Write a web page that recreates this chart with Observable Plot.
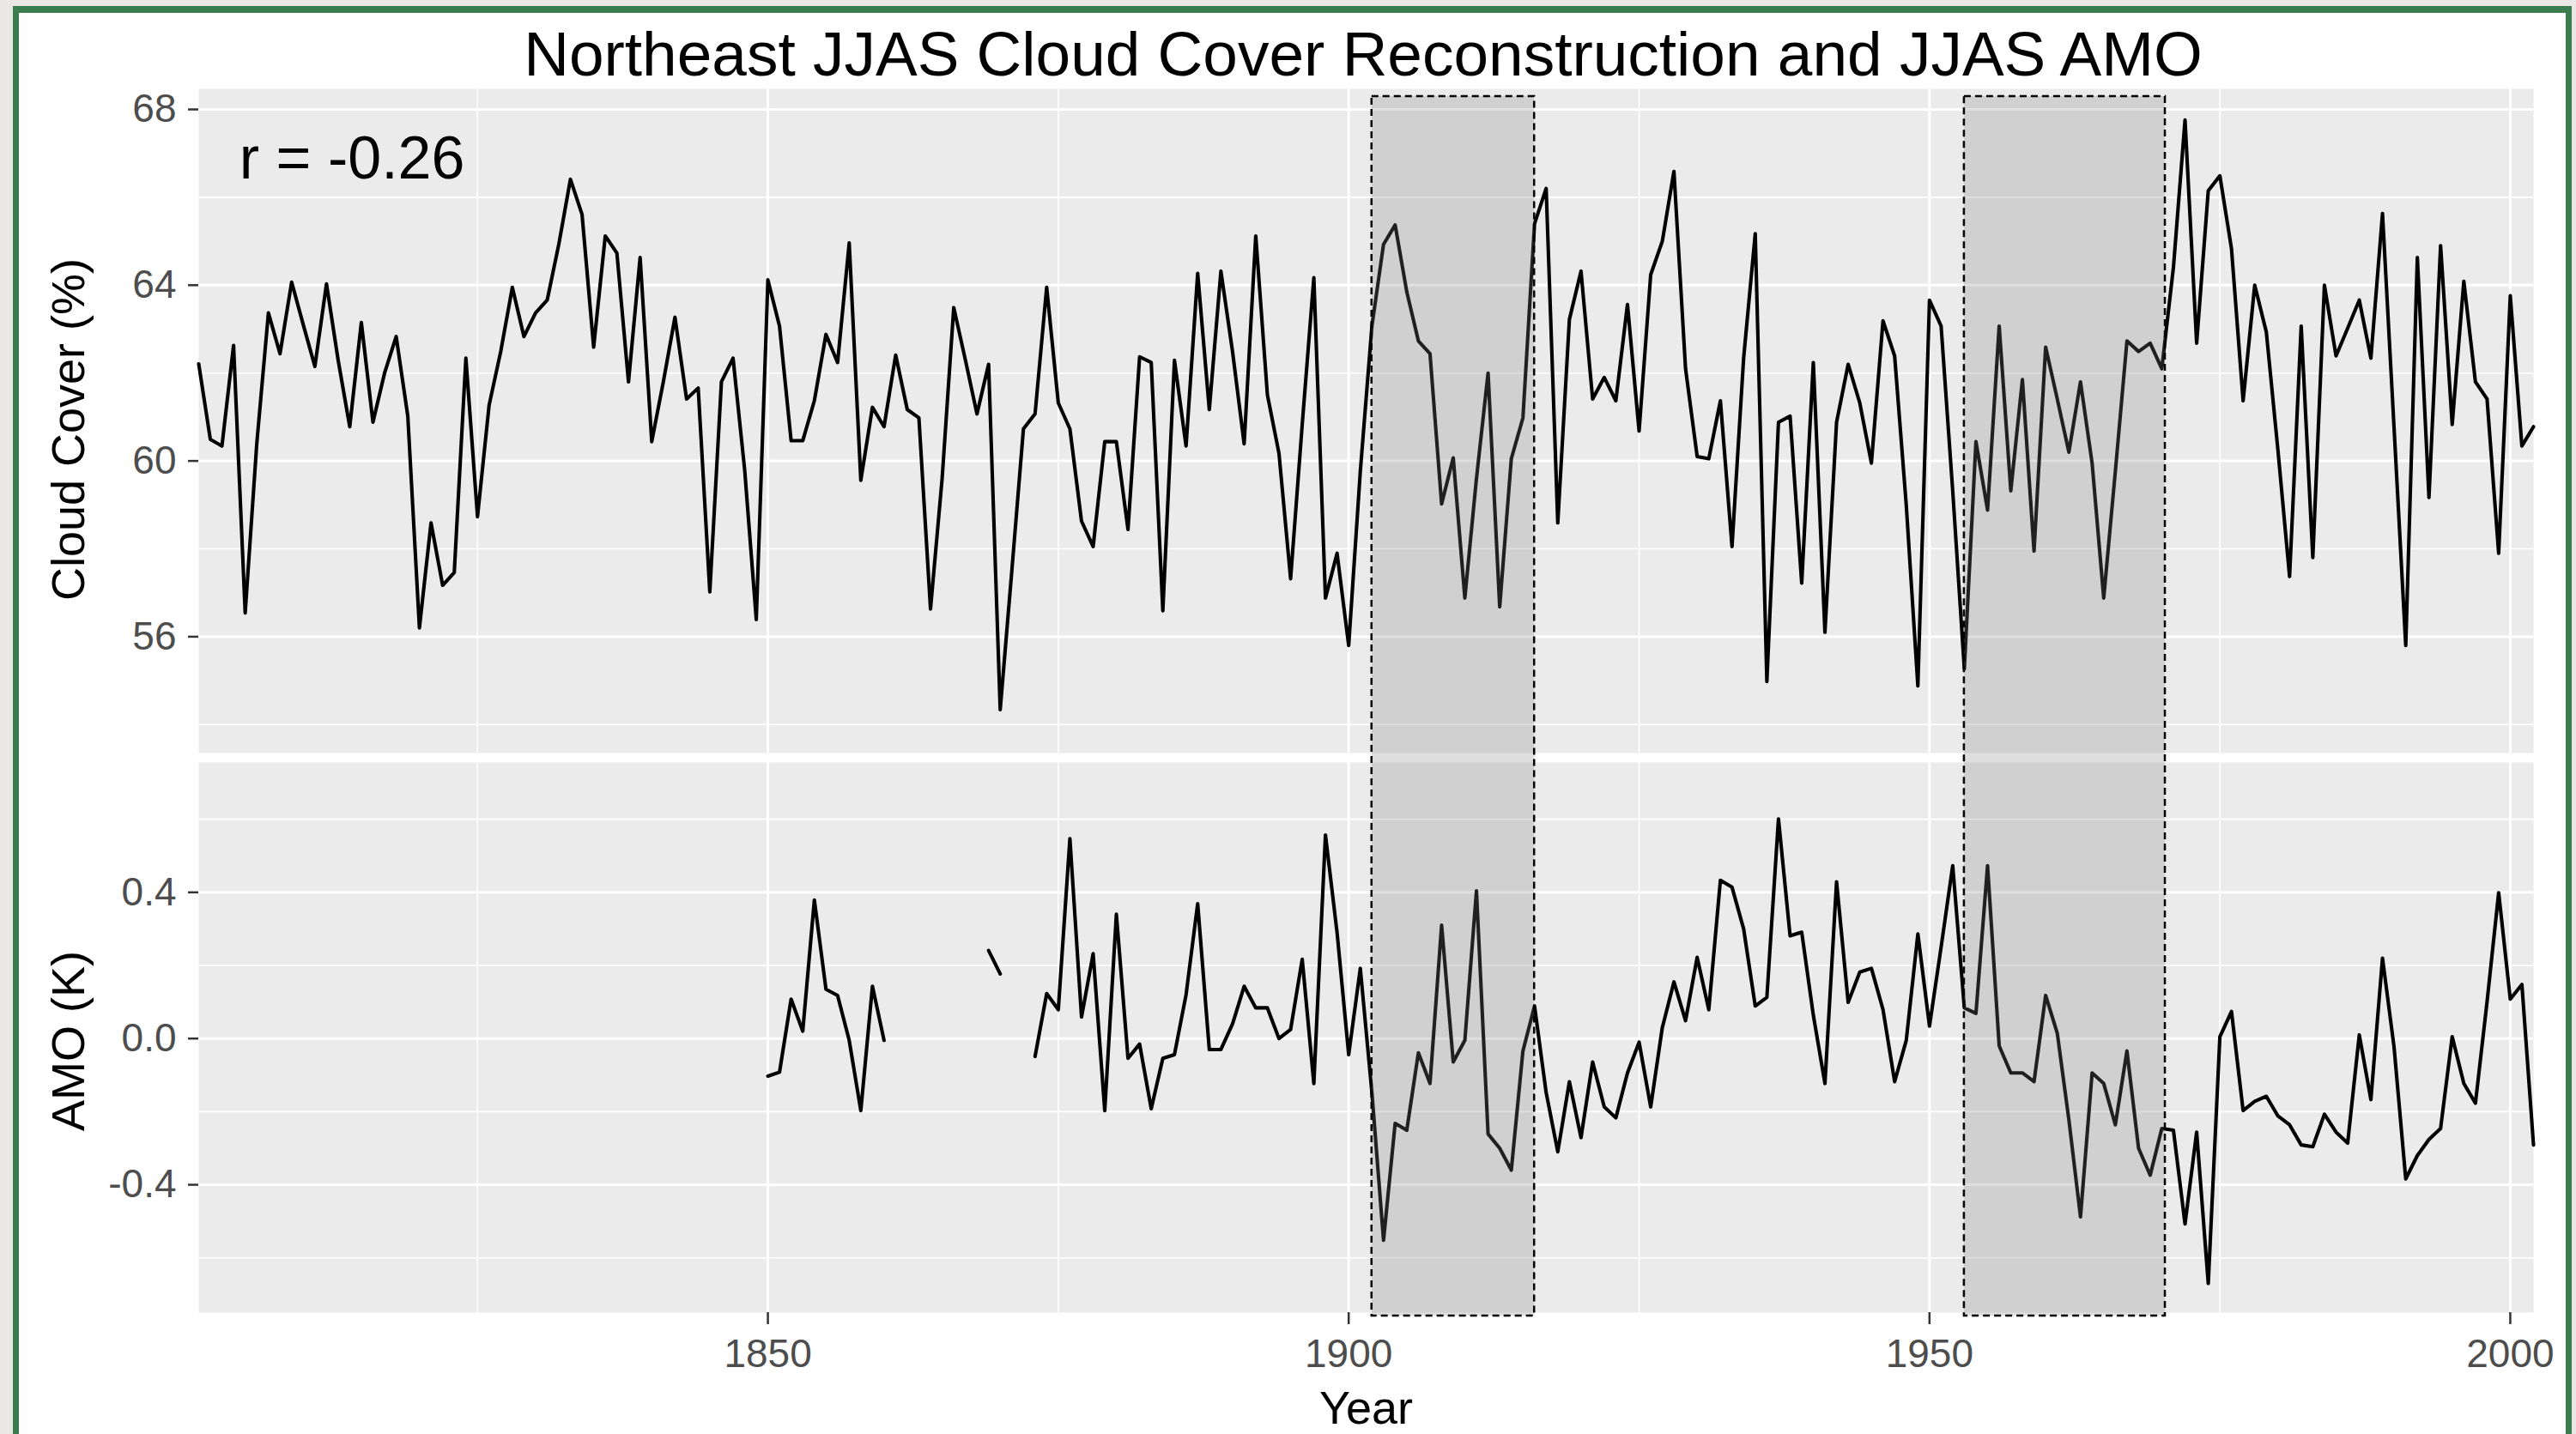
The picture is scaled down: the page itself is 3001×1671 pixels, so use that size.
<!DOCTYPE html>
<html>
<head>
<meta charset="utf-8">
<script src="https://cdn.jsdelivr.net/npm/d3@7"></script>
<script src="https://cdn.jsdelivr.net/npm/@observablehq/plot@0.6"></script>
<style>
  html, body { margin: 0; padding: 0; background: #e9e8e4; }
  #page { position: relative; width: 3001px; height: 1671px; overflow: hidden; background: #e9e8e4;
          font-family: "Liberation Sans", Arial, sans-serif; }
  #card { position: absolute; left: 15px; top: 7px; width: 2981px; height: 1700px; box-sizing: border-box;
          background: #ffffff; border: 7px solid #3b7d4f; border-top-width: 8px; }
  #title { position: absolute; left: 88px; width: 3000px; top: 26px; text-align: center;
           font-size: 73px; line-height: 73px; color: #000; white-space: nowrap; }
  .layer { position: absolute; left: 0; }
  .layer svg { display: block; max-width: none; }
  #overlay { pointer-events: none; }
</style>
</head>
<body>
<div id="page">
  <div id="card"></div>
  <div id="title">Northeast JJAS Cloud Cover Reconstruction and JJAS AMO</div>
  <div id="topPanel" class="layer" style="top:103px"></div>
  <div id="bottomPanel" class="layer" style="top:888px"></div>
  <div id="overlay" class="layer" style="top:109px"></div>
</div>
<script>
// ---------------- data ----------------
const cloudStartYear = 1801;
const cloudValues = [
  62.21, 60.49, 60.34, 62.63, 56.54, 60.4, 63.37, 62.44, 64.07, 63.1,
  62.15, 64.03, 62.3, 60.78, 63.15, 60.88, 62.0, 62.83, 61.02, 56.2,
  58.59, 57.17, 57.46, 62.34, 58.73, 61.27, 62.49, 63.95, 62.83, 63.37,
  63.66, 64.93, 66.41, 65.61, 62.59, 65.12, 64.73, 61.8, 64.63, 60.44,
  61.8, 63.27, 61.41, 61.66, 57.02, 61.8, 62.34, 59.8, 56.39, 64.12,
  63.07, 60.46, 60.46, 61.37, 62.88, 62.24, 64.96, 59.56, 61.22, 60.78,
  62.41, 61.17, 60.98, 56.63, 59.6, 63.49, 62.3, 61.07, 62.2, 54.34,
  57.5, 60.73, 61.07, 63.95, 61.32, 60.73, 58.63, 58.05, 60.44, 60.44,
  58.44, 62.37, 62.24, 56.59, 62.29, 60.34, 64.27, 61.17, 64.32, 62.49,
  60.39, 65.12, 61.51, 60.17, 57.32, 60.83, 64.17, 56.88, 57.9, 55.8,
  59.76, 63.07, 64.93, 65.37, 63.85, 62.73, 62.44, 59.02, 60.07, 56.88,
  59.6, 62.0, 56.68, 60.05, 60.98, 65.4, 66.2, 58.59, 63.22, 64.32,
  61.41, 61.9, 61.37, 63.56, 60.68, 64.24, 65.0, 66.59, 62.1, 60.1,
  60.05, 61.37, 58.05, 62.34, 65.17, 54.98, 60.88, 61.02, 57.22, 62.24,
  56.1, 60.88, 62.2, 61.32, 59.95, 63.19, 62.39, 59.0, 54.88, 63.66,
  63.07, 59.32, 55.27, 60.44, 58.88, 63.07, 59.32, 61.85, 57.95, 62.59,
  61.41, 60.2, 61.8, 59.95, 56.88, 59.76, 62.73, 62.49, 62.68, 62.1,
  64.4, 67.76, 62.68, 66.15, 66.49, 64.83, 61.37, 64.0, 62.93, 60.24,
  57.37, 63.07, 57.8, 64.0, 62.39, 63.02, 63.66, 62.34, 65.63, 60.73,
  55.8, 64.63, 59.17, 64.9, 60.83, 64.09, 61.8, 61.41, 57.9, 63.76,
  60.34, 60.78
];
const amoStartYear = 1850;
const amoValues = [
  -0.103, -0.092, 0.108, 0.02, 0.379, 0.135, 0.118, -0.005, -0.197, 0.143, -0.005,
  null, null, null, null, null, null, null, null,
  0.241, 0.177,
  null, null,
  -0.049, 0.123, 0.079, 0.547, 0.059, 0.232, -0.197, 0.34,
  -0.054, -0.015, -0.192, -0.054, -0.044, 0.12, 0.369, -0.03, -0.03, 0.04,
  0.143, 0.084, 0.084, 0.0, 0.025, 0.217, -0.123, 0.557, 0.29, -0.044,
  0.192, -0.148, -0.552, -0.232, -0.251, -0.039, -0.123, 0.31, -0.064, -0.005,
  0.404, -0.261, -0.3, -0.36, -0.034, 0.089, -0.148, -0.31, -0.118, -0.271,
  -0.064, -0.187, -0.217, -0.094, -0.01, -0.187, 0.03, 0.155, 0.049, 0.222,
  0.079, 0.433, 0.414, 0.30, 0.089, 0.113, 0.601, 0.281, 0.291, 0.064,
  -0.123, 0.429, 0.099, 0.182, 0.192, 0.079, -0.118, -0.005, 0.286, 0.034,
  0.25, 0.473, 0.084, 0.069, 0.473, -0.02, -0.094, -0.094, -0.118, 0.118,
  0.015, -0.222, -0.488, -0.094, -0.123, -0.236, -0.034, -0.3, -0.374, -0.246,
  -0.251, -0.507, -0.256, -0.67, 0.005, 0.074, -0.197, -0.172, -0.158, -0.212,
  -0.236, -0.291, -0.296, -0.207, -0.256, -0.286, 0.01, -0.167, 0.22, -0.025,
  -0.384, -0.32, -0.276, -0.246, 0.005, -0.123, -0.177, 0.1, 0.399, 0.108,
  0.148, -0.291
];
const shadeStart = [1902, 1953];
const shadeEnd = [1916, 1970.3];
const xMajorTicks = [1850, 1900, 1950, 2000];
const xMinorTicks = [1825, 1875, 1925, 1975];
const cloudMajorTicks = [56, 60, 64, 68];
const cloudMinorTicks = [54, 58, 62, 66];
const amoMajorTicks = [-0.4, 0.0, 0.4];
const amoMinorTicks = [-0.6, -0.2, 0.2, 0.6];
const corrLabel = "r = -0.26";
const corrPos = {year: 1814.2, value: 66.87};

// ------------- tables -------------
const cloudData = cloudValues.map((v, i) => ({year: cloudStartYear + i, value: v}));
const amoData = amoValues.map((v, i) => ({year: amoStartYear + i, value: v}));
const shades = shadeStart.map((s, i) => ({start: s, end: shadeEnd[i]}));

const FONT = "'Liberation Sans', Arial, sans-serif";
const W = 3001, ML = 231, MR = 50;
const xDomain = [1801, 2002];
const gridMajorW = 3, gridMinorW = 1.6;
const lineW = 4.1;
const tickColor = "#333333", tickLabelColor = "#4d4d4d";

function grids(yMinor, yMajor) {
  return [
    Plot.frame({fill: "#ebebeb", stroke: "none"}),
    Plot.gridY(yMinor, {stroke: "white", strokeOpacity: 1, strokeWidth: gridMinorW}),
    Plot.gridX(xMinorTicks, {stroke: "white", strokeOpacity: 1, strokeWidth: gridMinorW}),
    Plot.gridY(yMajor, {stroke: "white", strokeOpacity: 1, strokeWidth: gridMajorW}),
    Plot.gridX(xMajorTicks, {stroke: "white", strokeOpacity: 1, strokeWidth: gridMajorW})
  ];
}

// ------------- top panel -------------
const topPlot = Plot.plot({
  width: W, height: 774,
  marginLeft: ML, marginRight: MR, marginTop: 0, marginBottom: 0,
  x: {domain: xDomain, axis: null},
  y: {domain: [53.352, 68.469], axis: null},
  style: {background: "transparent", fontFamily: FONT, overflow: "visible"},
  marks: [
    ...grids(cloudMinorTicks, cloudMajorTicks),
    Plot.line(cloudData, {x: "year", y: "value", stroke: "black", strokeWidth: lineW}),
    Plot.axisY(cloudMajorTicks, {tickSize: 12, tickPadding: 14, fontSize: 46,
      stroke: tickColor, strokeWidth: 2.5, fill: tickLabelColor, label: null,
      tickFormat: d => String(d)}),
    Plot.text([corrLabel], {x: () => corrPos.year, y: () => corrPos.value, text: d => d,
      fontSize: 70, fill: "black"}),
    Plot.text(["Cloud Cover (%)"], {frameAnchor: "left", text: d => d, dx: -151, dy: 10,
      rotate: -90, textAnchor: "middle", lineAnchor: "middle", fontSize: 54, fill: "black"})
  ]
});
document.getElementById("topPanel").append(topPlot);

// ------------- bottom panel -------------
const bottomPlot = Plot.plot({
  width: W, height: 783,
  marginLeft: ML, marginRight: MR, marginTop: 0, marginBottom: 142,
  x: {domain: xDomain, axis: null},
  y: {domain: [-0.7497, 0.7553], axis: null},
  style: {background: "transparent", fontFamily: FONT, overflow: "visible"},
  marks: [
    ...grids(amoMinorTicks, amoMajorTicks),
    Plot.line(amoData, {x: "year", y: "value", stroke: "black", strokeWidth: lineW}),
    Plot.axisY(amoMajorTicks, {tickSize: 12, tickPadding: 14, fontSize: 46,
      stroke: tickColor, strokeWidth: 2.5, fill: tickLabelColor, label: null,
      tickFormat: d => d.toFixed(1)}),
    Plot.axisX(xMajorTicks, {tickSize: 14, tickPadding: 17, fontSize: 46,
      stroke: tickColor, strokeWidth: 2.5, fill: tickLabelColor, label: null,
      tickFormat: d => String(d)}),
    Plot.text(["AMO (K)"], {frameAnchor: "left", text: d => d, dx: -151, dy: 4,
      rotate: -90, textAnchor: "middle", lineAnchor: "middle", fontSize: 54, fill: "black"}),
    Plot.text(["Year"], {frameAnchor: "bottom", text: d => d, dy: 112,
      textAnchor: "middle", lineAnchor: "middle", fontSize: 54, fill: "black"})
  ]
});
document.getElementById("bottomPanel").append(bottomPlot);

// ------------- shaded periods overlay (spans both panels) -------------
const overlayPlot = Plot.plot({
  width: W, height: 1427,
  marginLeft: ML, marginRight: MR, marginTop: 3, marginBottom: 3,
  x: {domain: xDomain, axis: null},
  y: {domain: [0, 1], axis: null},
  style: {background: "transparent", overflow: "visible"},
  marks: [
    Plot.rect(shades, {x1: "start", x2: "end", y1: () => 0, y2: () => 1,
      fill: "#7f7f7f", fillOpacity: 0.25, stroke: "black", strokeWidth: 2.5,
      strokeDasharray: "8,5"})
  ]
});
document.getElementById("overlay").append(overlayPlot);
</script>
</body>
</html>
